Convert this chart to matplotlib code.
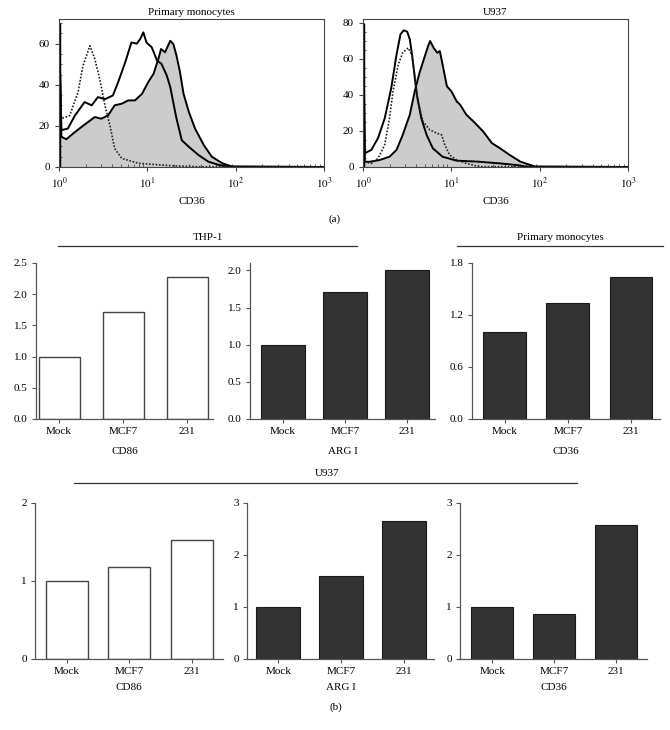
import matplotlib
matplotlib.use("Agg")
import matplotlib.pyplot as plt
import numpy as np
from matplotlib.ticker import MultipleLocator, LogLocator, NullFormatter

plt.rcParams['font.family'] = ['Liberation Serif', 'DejaVu Serif']
plt.rcParams['mathtext.fontset'] = 'stix'
plt.rcParams['font.size'] = 8

W, H = 670, 730

# ---- (a) CD36 histograms, x as log10(CD36) ----
pm_iso_x = [0.0, 0.027, 0.12, 0.216, 0.27, 0.35, 0.405, 0.46, 0.52, 0.576, 0.63, 0.71, 0.9, 1.28, 1.6, 3.0]
pm_iso_y = [70, 23.5, 25, 36.4, 49, 59, 52.6, 43, 30, 20.3, 9, 4.2, 1.8, 0.6, 0.1, 0]

pm_open_x = [0.0, 0.027, 0.1, 0.18, 0.29, 0.37, 0.44, 0.52, 0.61, 0.67, 0.75, 0.82, 0.88, 0.92, 0.955,
             0.99, 1.05, 1.11, 1.16, 1.22, 1.26, 1.3, 1.33, 1.39, 1.47, 1.58, 1.69, 1.81, 1.92, 3.0]
pm_open_y = [68, 17.9, 18.7, 25, 31.6, 30, 34, 33, 34.8, 41.3, 51, 60.6, 60, 62.3, 65.5,
             60.6, 58.2, 51.8, 50.2, 44.5, 38.8, 30, 23.6, 13, 9.8, 5.8, 2.6, 1, 0.2, 0]

pm_fill_x = [0.0, 0.027, 0.084, 0.16, 0.255, 0.33, 0.405, 0.48, 0.557, 0.63, 0.71, 0.784, 0.86, 0.94,
             1.01, 1.07, 1.125, 1.155, 1.2, 1.26, 1.295, 1.33, 1.37, 1.41, 1.47, 1.54, 1.64, 1.73,
             1.85, 1.96, 3.0]
pm_fill_y = [70, 14.7, 13.5, 16.3, 19.5, 21.9, 24.3, 23.5, 25.2, 30, 30.8, 32.4, 32.4, 35.6,
             41.3, 45.3, 52.6, 57.4, 55.8, 61.4, 59.8, 54.2, 46.1, 35.6, 26.8, 18.7, 10.6, 5,
             1.8, 0.2, 0]

u9_open_x = [0.0, 0.02, 0.095, 0.17, 0.246, 0.32, 0.38, 0.424, 0.46, 0.5, 0.53, 0.56, 0.586, 0.61,
             0.66, 0.72, 0.79, 0.9, 1.06, 1.29, 1.55, 1.74, 1.85, 3.0]
u9_open_y = [80, 7.6, 9.5, 16, 27, 43.8, 62.4, 73.5, 75.7, 75, 70.7, 60.5, 49.4, 40,
             27, 17.8, 10.4, 5.7, 3.5, 3, 2, 1.1, 0.2, 0]

u9_iso_x = [0.012, 0.02, 0.095, 0.17, 0.246, 0.3, 0.34, 0.4, 0.45, 0.51, 0.55, 0.586, 0.62, 0.68,
            0.756, 0.83, 0.89, 0.926, 0.98, 1.06, 1.17, 1.32, 3.0]
u9_iso_y = [40, 2.9, 2, 4.8, 12.3, 27, 42, 57, 63.3, 66, 62.4, 51.2, 36.4, 25.2,
            20.6, 18.8, 17.8, 12.3, 6.7, 3.9, 2, 0.2, 0]

u9_fill_x = [0.008, 0.02, 0.076, 0.19, 0.3, 0.38, 0.45, 0.53, 0.586, 0.64, 0.7, 0.737, 0.76, 0.8,
             0.84, 0.87, 0.9, 0.95, 1.0, 1.06, 1.1, 1.17, 1.27, 1.36, 1.46, 1.55, 1.66, 1.78,
             1.87, 1.95, 3.0]
u9_fill_y = [62, 2.9, 2.9, 3.9, 5.7, 9.5, 17.8, 29, 42, 52.2, 61.4, 67, 69.8, 66,
             63.3, 64.2, 57, 44.7, 42, 36.4, 34.5, 29, 24.3, 19.7, 13.2, 10.4, 6.7, 3,
             1.5, 0.2, 0]

# ---- (b) bar data ----
groups = ['Mock', 'MCF7', '231']
thp1_cd86 = [1.0, 1.72, 2.27]
thp1_arg1 = [1.0, 1.71, 2.01]
pm_cd36 = [1.0, 1.34, 1.64]
u937_cd86 = [1.0, 1.18, 1.53]
u937_arg1 = [1.0, 1.60, 2.66]
u937_cd36 = [1.0, 0.86, 2.57]


def px_axes(x0, y0, x1, y1):
    return fig.add_axes([x0 / W, 1 - y1 / H, (x1 - x0) / W, (y1 - y0) / H])


def ftext(x, y, s, **kw):
    fig.text(x / W, 1 - y / H, s, ha='center', va='center', **kw)


def fline(x0, x1, y):
    fig.add_artist(plt.Line2D([x0 / W, x1 / W], [1 - y / H, 1 - y / H],
                              transform=fig.transFigure, color='#333333', lw=0.9))


fig = plt.figure(figsize=(W / 100, H / 100), dpi=100)


def histo(ax, fill, opn, iso, ymax, yticks, title):
    fx, fy = 10 ** np.array(fill[0]), np.array(fill[1])
    ax.fill_between(fx, 0, fy, color='#cccccc', lw=0)
    ax.plot(fx, fy, color='black', lw=1.4)
    ax.plot(10 ** np.array(opn[0]), opn[1], color='black', lw=1.4)
    ax.plot(10 ** np.array(iso[0]), iso[1], color='#222222', lw=1.2, ls=(0, (1, 1)))
    ax.vlines(1.0, 0, max(fill[1][0], opn[1][0]), color='black', lw=2.5)
    ax.set_xscale('log')
    ax.set_xlim(1, 1000)
    ax.set_ylim(0, ymax)
    ax.set_yticks(yticks)
    ax.yaxis.set_minor_locator(MultipleLocator(5))
    ax.xaxis.set_minor_locator(LogLocator(base=10, subs=np.arange(2, 10), numticks=20))
    ax.xaxis.set_minor_formatter(NullFormatter())
    ax.set_xticks([1, 10, 100, 1000])
    ax.set_xticklabels([r'$10^0$', r'$10^1$', r'$10^2$', r'$10^3$'])
    ax.tick_params(which='major', length=3, width=0.8, color='#444444', labelsize=8)
    ax.tick_params(which='minor', length=2, width=0.6, direction='in', color='#444444')
    for s in ax.spines.values():
        s.set_color('#444444')
        s.set_linewidth(0.8)
    ax.set_xlabel('CD36', fontsize=8, labelpad=4)
    ax.set_title(title, fontsize=8, pad=3)


ax1 = px_axes(59, 19, 324, 167)
histo(ax1, (pm_fill_x, pm_fill_y), (pm_open_x, pm_open_y), (pm_iso_x, pm_iso_y),
      72, [0, 20, 40, 60], 'Primary monocytes')
ax2 = px_axes(363, 19, 628, 167)
histo(ax2, (u9_fill_x, u9_fill_y), (u9_open_x, u9_open_y), (u9_iso_x, u9_iso_y),
      82, [0, 20, 40, 60, 80], 'U937')


def bars(ax, vals, dark, xlim, ymax, yticks, fmt, width, label, lpad):
    x = np.arange(len(groups))
    if dark:
        ax.bar(x, vals, width=width, color='#333333', edgecolor='#1a1a1a', lw=0.8, zorder=2)
    else:
        ax.bar(x, vals, width=width, color='white', edgecolor='#444444', lw=1.0, zorder=2)
    ax.set_xlim(*xlim)
    ax.set_ylim(0, ymax)
    ax.set_xticks(x)
    ax.set_xticklabels(groups)
    ax.set_yticks(yticks)
    ax.set_yticklabels([fmt.format(v) for v in yticks])
    for s in ['top', 'right']:
        ax.spines[s].set_visible(False)
    for s in ['left', 'bottom']:
        ax.spines[s].set_color('#555555')
        ax.spines[s].set_linewidth(0.9)
    ax.tick_params(length=3, width=0.8, color='#555555', labelsize=8, pad=3)
    ax.set_xlabel(label, fontsize=8, labelpad=lpad)


a = px_axes(36, 263, 213, 419)
bars(a, thp1_cd86, False, (-0.36, 2.4), 2.5, [0, 0.5, 1.0, 1.5, 2.0, 2.5], '{:.1f}', 0.64, 'CD86', 7.5)
a = px_axes(250, 263, 435, 419)
bars(a, thp1_arg1, True, (-0.53, 2.45), 2.1, [0, 0.5, 1.0, 1.5, 2.0], '{:.1f}', 0.72, 'ARG I', 7.5)
a = px_axes(472, 263, 660, 419)
bars(a, pm_cd36, True, (-0.52, 2.46), 1.8, [0, 0.6, 1.2, 1.8], '{:.1f}', 0.68, 'CD36', 7.5)

a = px_axes(35, 503, 223, 659)
bars(a, u937_cd86, False, (-0.51, 2.5), 2, [0, 1, 2], '{:d}', 0.67, 'CD86', 5)
a = px_axes(247, 503, 434, 659)
bars(a, u937_arg1, True, (-0.5, 2.48), 3, [0, 1, 2, 3], '{:d}', 0.7, 'ARG I', 5)
a = px_axes(460, 503, 647, 659)
bars(a, u937_cd36, True, (-0.52, 2.5), 3, [0, 1, 2, 3], '{:d}', 0.67, 'CD36', 5)

# group headers and panel letters
ftext(335, 219, '(a)')
ftext(208, 237, 'THP-1')
fline(58, 357, 246)
ftext(560, 237, 'Primary monocytes')
fline(457, 663, 246)
ftext(327, 474, 'U937')
fline(74, 577, 483)
ftext(336, 707, '(b)')

fig.savefig('out.png', dpi=100, facecolor='white')
